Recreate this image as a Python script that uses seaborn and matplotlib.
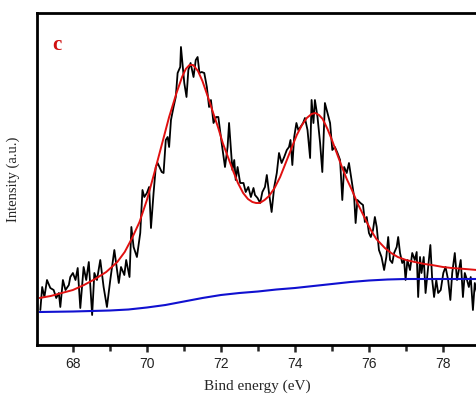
import numpy as np
import pandas as pd
import matplotlib
matplotlib.use("Agg")
import matplotlib.pyplot as plt
import seaborn as sns
from matplotlib.ticker import MultipleLocator

# ---- data ----
raw_x = [67.12, 67.17, 67.23, 67.30, 67.39, 67.48, 67.55, 67.62, 67.66, 67.73, 67.80, 67.89, 67.93,
         68.00, 68.07, 68.13, 68.20, 68.29, 68.36, 68.43, 68.52, 68.58, 68.65, 68.74, 68.83, 68.92,
         69.01, 69.12, 69.24, 69.30, 69.39, 69.44, 69.53, 69.58, 69.64, 69.73, 69.82, 69.88, 69.93,
         70.00, 70.06, 70.11, 70.18, 70.24, 70.29, 70.40, 70.45, 70.51, 70.56, 70.60, 70.65, 70.72,
         70.78, 70.83, 70.90, 70.92, 70.97, 71.01, 71.07, 71.12, 71.18, 71.26, 71.32, 71.37, 71.42,
         71.48, 71.55, 71.62, 71.68, 71.73, 71.80, 71.87, 71.93, 72.02, 72.11, 72.18, 72.22, 72.27,
         72.31, 72.36, 72.40, 72.45, 72.52, 72.61, 72.67, 72.74, 72.81, 72.88, 72.92, 72.99, 73.06,
         73.12, 73.19, 73.24, 73.30, 73.37, 73.44, 73.51, 73.57, 73.64, 73.71, 73.78, 73.84, 73.88,
         73.93, 73.98, 74.04, 74.09, 74.15, 74.22, 74.27, 74.34, 74.41, 74.45, 74.50, 74.54, 74.61,
         74.68, 74.74, 74.81, 74.88, 74.95, 75.01, 75.08, 75.15, 75.22, 75.28, 75.33, 75.40, 75.46,
         75.53, 75.60, 75.64, 75.69, 75.77, 75.84, 75.89, 75.94, 76.00, 76.05, 76.11, 76.16, 76.21,
         76.27, 76.34, 76.41, 76.47, 76.52, 76.57, 76.63, 76.68, 76.75, 76.79, 76.84, 76.90, 76.95,
         76.99, 77.04, 77.11, 77.17, 77.24, 77.29, 77.33, 77.38, 77.42, 77.48, 77.53, 77.60, 77.66,
         77.71, 77.76, 77.82, 77.87, 77.94, 78.01, 78.07, 78.14, 78.20, 78.25, 78.32, 78.38, 78.43,
         78.48, 78.54, 78.59, 78.65, 78.70, 78.75, 78.81, 78.86, 78.92]
raw_y = [35, 58, 48, 65, 57, 55, 47, 52, 38, 65, 55, 60, 68,
         72, 65, 77, 37, 78, 65, 83, 30, 72, 65, 85, 58, 38,
         65, 95, 62, 78, 70, 85, 68, 118, 98, 88, 112, 155, 148,
         152, 158, 117, 152, 178, 182, 173, 172, 205, 208, 198, 225, 238,
         248, 272, 278, 298, 278, 262, 248, 275, 282, 268, 285, 288, 272,
         273, 272, 258, 238, 245, 222, 228, 228, 202, 178, 198, 222, 195,
         175, 185, 165, 178, 162, 162, 153, 158, 148, 157, 150, 147, 142,
         153, 158, 170, 152, 133, 158, 172, 192, 182, 188, 195, 198, 205,
         180, 208, 222, 215, 218, 222, 227, 215, 187, 245, 222, 245, 228,
         202, 173, 242, 232, 222, 195, 198, 192, 185, 145, 178, 172, 182,
         165, 148, 122, 145, 142, 140, 123, 128, 112, 108, 115, 128, 118,
         95, 88, 75, 88, 108, 85, 82, 92, 98, 108, 92, 82, 85,
         65, 85, 75, 92, 85, 93, 48, 88, 72, 88, 52, 78, 100,
         65, 48, 65, 52, 55, 72, 78, 65, 45, 72, 92, 65, 75,
         85, 48, 72, 65, 58, 68, 35, 62, 52]

fit_x = [67.10, 67.40, 67.70, 68.00, 68.30, 68.60, 68.90, 69.20, 69.40, 69.60, 69.80, 70.00, 70.20,
         70.40, 70.60, 70.80, 70.95, 71.05, 71.15, 71.25, 71.38, 71.50, 71.65, 71.80, 71.92, 72.05,
         72.19, 72.33, 72.46, 72.60, 72.73, 72.85, 72.95, 73.05, 73.18, 73.30, 73.45, 73.60, 73.75,
         73.92, 74.05, 74.19, 74.32, 74.45, 74.55, 74.65, 74.75, 74.88, 75.00, 75.15, 75.27, 75.40,
         75.54, 75.70, 75.90, 76.05, 76.20, 76.43, 76.60, 76.78, 77.00, 77.24, 77.50, 77.70, 78.00,
         78.24, 78.60, 78.92]
fit_y = [47, 49, 52, 55, 60, 66, 73, 83, 93, 107, 123, 145, 172,
         200, 228, 252, 268, 276, 280, 280, 274, 264, 248, 231, 218, 202,
         188, 174, 162, 152, 146, 143, 142, 142, 145, 149, 157, 168, 182,
         198, 210, 220, 227, 231, 232, 230, 226, 216, 205, 190, 178, 166,
         155, 141, 126, 115, 106, 97, 92, 88, 85, 83, 81, 80, 78,
         77, 76, 75]

bg_x = [67.10, 68.00, 69.00, 69.50, 70.00, 70.50, 71.00, 71.50, 72.00, 72.50, 73.00, 73.50, 74.00,
        74.50, 75.00, 75.50, 76.00, 76.50, 77.00, 78.00, 78.92]
bg_y = [33, 33.5, 34.5, 35.5, 37.5, 40, 43.5, 47, 50, 52, 53.5, 55.5, 57,
        59, 61, 63, 64.5, 65.5, 66, 66, 66]

x_ticks = [68, 70, 72, 74, 76, 78]

raw = pd.DataFrame({"x": raw_x, "y": raw_y})
fit = pd.DataFrame({"x": fit_x, "y": fit_y})
bg = pd.DataFrame({"x": bg_x, "y": bg_y})

sns.set_style("white")
plt.rcParams["font.family"] = ["Liberation Serif", "DejaVu Serif"]

fig = plt.figure(figsize=(4.77, 3.96), dpi=100)
ax = fig.add_axes([37 / 477, 51 / 396, 440 / 477, 332 / 396])

sns.lineplot(data=raw, x="x", y="y", ax=ax, color="black", lw=1.3, sort=False, estimator=None)
sns.lineplot(data=fit, x="x", y="y", ax=ax, color="#e01010", lw=1.4, sort=False, estimator=None)
sns.lineplot(data=bg, x="x", y="y", ax=ax, color="#1010d0", lw=1.5, sort=False, estimator=None)

ax.set_xlim(67.03, 78.92)
ax.set_ylim(0, 332)
ax.set_xticks(x_ticks)
ax.xaxis.set_minor_locator(MultipleLocator(1))
ax.set_yticks([])
ax.tick_params(axis="x", which="major", direction="out", length=5, width=1.8,
               bottom=True, labelsize=10, pad=4)
ax.tick_params(axis="x", which="minor", direction="out", length=4, width=1.8, bottom=True)
for lab in ax.get_xticklabels():
    lab.set_fontfamily(["Liberation Sans", "DejaVu Sans"])
    lab.set_color("#222222")

for side in ["left", "bottom", "top"]:
    ax.spines[side].set_visible(True)
    ax.spines[side].set_linewidth(2.0)
    ax.spines[side].set_color("black")
ax.spines["right"].set_visible(False)

ax.set_xlabel("Bind energy (eV)", fontsize=11, labelpad=6)
ax.set_ylabel("Intensity (a.u.)", fontsize=10.5, labelpad=12)

ax.text(0.035, 0.905, "c", transform=ax.transAxes, color="#d01010", fontsize=15,
        fontweight="bold", ha="left", va="center")

fig.savefig("out.png", dpi=100)
